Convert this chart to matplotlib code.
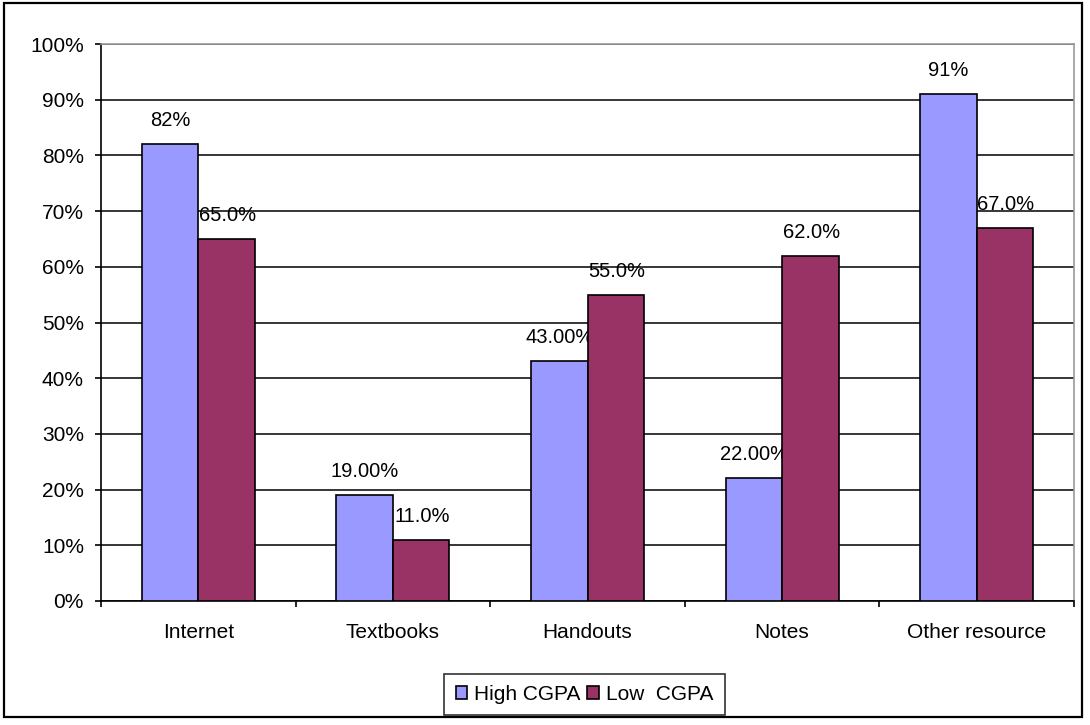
import matplotlib
matplotlib.use("Agg")
import matplotlib.pyplot as plt
from matplotlib.patches import Rectangle
from matplotlib.ticker import FixedLocator, PercentFormatter
import numpy as np

plt.rcParams['font.family'] = ['Liberation Sans', 'DejaVu Sans']

categories = ["Internet", "Textbooks", "Handouts", "Notes", "Other resource"]
high_cgpa = [82, 19, 43, 22, 91]
low_cgpa = [65, 11, 55, 62, 67]
high_decimals = [0, 2, 2, 2, 0]
low_decimals = [1, 1, 1, 1, 1]
series_names = ["High CGPA", "Low  CGPA"]

W, H = 1090, 725
FS = 15
FS_VAL = 14.5
fig = plt.figure(figsize=(W / 100, H / 100), dpi=100)

# outer chart border
fig.add_artist(Rectangle((4 / W, 1 - 717 / H), (1082 - 4) / W, (717 - 3) / H,
                         transform=fig.transFigure, fill=False,
                         edgecolor="black", linewidth=1.6))

left, right, top, bottom = 101, 1074, 44, 601
ax = fig.add_axes([left / W, 1 - bottom / H, (right - left) / W, (bottom - top) / H])

x = np.arange(len(categories))
bw = 0.29
blue = "#9999FF"
maroon = "#993366"

b1 = ax.bar(x - bw / 2, high_cgpa, bw, color=blue, edgecolor="black", linewidth=1.2,
            label=series_names[0], zorder=3)
b2 = ax.bar(x + bw / 2, low_cgpa, bw, color=maroon, edgecolor="black", linewidth=1.2,
            label=series_names[1], zorder=3)

# value labels sit beneath the bars so a neighbouring bar can cover them
for xi, v, d in zip(x - bw / 2, high_cgpa, high_decimals):
    ax.annotate(f"{v:.{d}f}%", (xi, v), xytext=(0, 18), textcoords="offset pixels",
                ha="center", va="baseline", fontsize=FS_VAL, zorder=2)
for xi, v, d in zip(x + bw / 2, low_cgpa, low_decimals):
    ax.annotate(f"{v:.{d}f}%", (xi, v), xytext=(1, 18), textcoords="offset pixels",
                ha="center", va="baseline", fontsize=FS_VAL, zorder=2)

ax.set_xlim(-0.5, len(categories) - 0.5)
ax.set_ylim(0, 100)
ax.set_yticks(np.arange(0, 101, 10))
ax.yaxis.set_major_formatter(PercentFormatter(decimals=0))
ax.yaxis.grid(True, color="black", linewidth=1.1, zorder=0)
ax.set_axisbelow(True)

ax.set_xticks(x)
ax.set_xticklabels(categories)
ax.xaxis.set_minor_locator(FixedLocator(np.arange(-0.5, len(categories), 1.0)))
ax.tick_params(axis="x", which="major", length=0, pad=16, labelsize=FS)
ax.tick_params(axis="x", which="minor", length=4.3, width=1.2, direction="out")
ax.tick_params(axis="y", length=4.3, width=1.2, direction="out", pad=8, labelsize=FS)

for s in ("left", "bottom"):
    ax.spines[s].set_color("black")
    ax.spines[s].set_linewidth(1.2)
for s in ("top", "right"):
    ax.spines[s].set_color("#999999")
    ax.spines[s].set_linewidth(1.2)

leg = fig.legend(handles=[b1, b2], loc="center", ncol=2,
                 bbox_to_anchor=(584.5 / W, 1 - 694.5 / H), frameon=True,
                 fancybox=False, edgecolor="black", fontsize=FS,
                 handlelength=0.55, handleheight=0.55, handletextpad=0.35,
                 columnspacing=0.3, borderpad=0.55, borderaxespad=0)
leg.get_frame().set_linewidth(1.2)

fig.savefig("out.png", dpi=100)
